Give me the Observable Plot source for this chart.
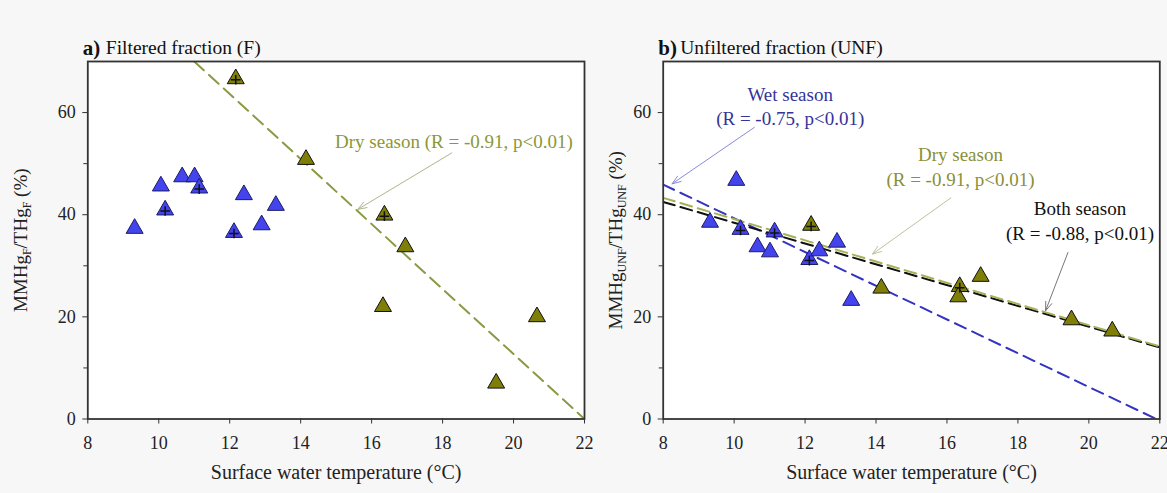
<!DOCTYPE html>
<html><head><meta charset="utf-8">
<script src="https://cdn.jsdelivr.net/npm/d3@7"></script>
<script src="https://cdn.jsdelivr.net/npm/@observablehq/plot@0.6"></script>
<style>
body{margin:0;background:#f7f7f7;width:1167px;height:493px;overflow:hidden;position:relative;font-family:"Liberation Serif",serif;}
#a,#b{position:absolute;top:0}
#a{left:0}
#b{left:595px}
</style></head><body>
<div id="a"></div><div id="b"></div>
<script>
// ---- data ----
const tempWet = [9.32, 10.06, 10.18, 10.66, 11.01, 11.14, 12.12, 12.40, 12.90, 13.30];
const fWet    = [37.8, 46.1, 41.4, 47.9, 47.9, 45.7, 37.0, 44.4, 38.5, 42.3];
const unfWet  = [39.0, 47.2, 37.6, 34.2, 33.2, 37.1, 31.7, 33.4, 35.1, 23.7];
const plusWet = [false, false, true, false, false, true, true, false, false, false];

const tempDry = [12.17, 14.15, 16.36, 16.32, 16.95, 19.51, 20.66];
const fDry    = [67.1, 51.3, 40.4, 22.5, 34.2, 7.5, 20.5];
const unfDry  = [38.4, 26.1, 26.4, 24.4, 28.4, 19.9, 17.7];
const plusDry = [true, false, true, false, false, false, false];

// regression lines (end points)
const fitFDryX = [11, 22],   fitFDryY = [70, 0];
const fitUWetX = [8, 21.9],  fitUWetY = [45.9, 0];
const fitUDryX = [8, 22],    fitUDryY = [43.3, 14.2];
const fitUBothX = [8, 22],   fitUBothY = [42.5, 14.0];

// annotations
const annoA = [{x: 18.32, y: 54.7, text: "Dry season (R = -0.91, p<0.01)", c: "#8a9838"}];
const arrowA = [{x1: 18.26, y1: 52.1, x2: 15.61, y2: 41.05, c: "#a9b98a"}];
const annoB = [
  {x: 11.58, y: 61.45, text: "Wet season\n(R = -0.75, p<0.01)", c: "#34349a"},
  {x: 16.38, y: 49.65, text: "Dry season\n(R = -0.91, p<0.01)", c: "#8a9038"},
  {x: 19.75, y: 39.0, text: "Both season\n(R = -0.88, p<0.01)", c: "#111"}
];
const arrowB = [
  {x1: 10.57, y1: 57.1, x2: 8.25, y2: 46.05, c: "#8a8ad8"},
  {x1: 16.11, y1: 43.3, x2: 13.9, y2: 32.3, c: "#bcc49a"},
  {x1: 19.41, y1: 32.6, x2: 18.78, y2: 21.2, c: "#777"}
];

const xTicks = [8, 10, 12, 14, 16, 18, 20, 22];
const yTicks = [0, 20, 40, 60];
const yMinor = [10, 30, 50];

const xLabel = "Surface water temperature (°C)";
const yLabA = [["MMHg", 0], ["F", 1], ["/THg", 0], ["F", 1], [" (%)", 0]];
const yLabB = [["MMHg", 0], ["UNF", 1], ["/THg", 0], ["UNF", 1], [" (%)", 0]];

const rows = (xs, ys, ps) => xs.map((x, i) => ({x, y: ys[i], p: ps ? ps[i] : false}));

function panel({width, ml, mr, wet, dry, fits, annos, arrows, tag, head, tagDx, titleDx, ylab, ylabDx}) {
  const plain = ylab.map(p => p[0]).join("");
  const marks = [
    Plot.frame({fill: "white", stroke: "none"}),
    ...fits.map(f => Plot.line(f.data, {x: "x", y: "y", stroke: f.c, strokeWidth: 2, strokeDasharray: f.dash, clip: true})),
    ...arrows.map(a => Plot.arrow([a], {x1: "x1", y1: "y1", x2: "x2", y2: "y2", stroke: a.c, strokeWidth: 1, headLength: 14, headAngle: 40})),
    Plot.dot(wet, {x: "x", y: "y", symbol: "triangle", r: 6.3, fill: "#4444ee", stroke: "#1c1c66", strokeWidth: 1, dy: 2.5}),
    Plot.dot(wet.filter(d => d.p), {x: "x", y: "y", symbol: "plus", r: 3.2, stroke: "#111", strokeWidth: 1.5, dy: 3.5}),
    Plot.dot(dry, {x: "x", y: "y", symbol: "triangle", r: 6.3, fill: "#7f7f08", stroke: "#111", strokeWidth: 1, dy: 2.5}),
    Plot.dot(dry.filter(d => d.p), {x: "x", y: "y", symbol: "plus", r: 3.2, stroke: "#111", strokeWidth: 1.5, dy: 3.5}),
    ...annos.map(a => Plot.text([a], {x: "x", y: "y", text: "text", fill: a.c, fontSize: 19, lineHeight: 1.3})),
    Plot.frame({stroke: "#333", strokeWidth: 1.8}),
    Plot.axisX({ticks: xTicks, tickSize: 5, tickPadding: 12, label: null, fontSize: 18, stroke: "#333"}),
    Plot.axisY({ticks: yTicks, tickSize: 5, tickPadding: 7, label: null, fontSize: 18, stroke: "#333"}),
    Plot.axisY({ticks: yMinor, tickSize: 4, tickFormat: () => "", label: null, stroke: "#333"}),
    Plot.text([xLabel], {frameAnchor: "bottom", text: d => d, dy: 60, fontSize: 20, fill: "#222"}),
    Plot.text([tag], {frameAnchor: "top-left", text: d => d, dx: tagDx, dy: -21, fontSize: 21, fontWeight: "bold", textAnchor: "start", fill: "#111"}),
    Plot.text([head], {frameAnchor: "top-left", text: d => d, dx: titleDx, dy: -21, fontSize: 19.5, textAnchor: "start", fill: "#111"}),
    Plot.text([plain], {frameAnchor: "left", text: d => d, rotate: -90, dx: ylabDx, fontSize: 19, textAnchor: "middle", fill: "#222"})
  ];
  const svg = Plot.plot({
    width, height: 493,
    marginLeft: ml, marginRight: mr, marginTop: 61, marginBottom: 74.5,
    x: {domain: [8, 22]},
    y: {domain: [0, 70]},
    style: {fontFamily: "'Liberation Serif', serif", background: "transparent", color: "#222", overflow: "visible"},
    marks
  });
  // subscripts in the y label
  const t = Array.from(svg.querySelectorAll("text")).find(e => e.textContent === plain);
  if (t) {
    const sel = d3.select(t);
    sel.selectAll("*").remove();
    sel.text(null);
    let shifted = false;
    ylab.forEach(([s, sub]) => {
      const ts = sel.append("tspan").text(s);
      if (sub) { ts.attr("font-size", 12); if (!shifted) { ts.attr("dy", 4); shifted = true; } }
      else if (shifted) { ts.attr("dy", -4); shifted = false; }
    });
  }
  return svg;
}

const A = panel({
  width: 595, ml: 87.3, mr: 11,
  wet: rows(tempWet, fWet, plusWet), dry: rows(tempDry, fDry, plusDry),
  fits: [{data: rows(fitFDryX, fitFDryY), c: "#8a9a42", dash: "13,7"}],
  annos: annoA, arrows: arrowA,
  tag: "a)", head: "Filtered fraction (F)",
  tagDx: -5, titleDx: 18,
  ylab: yLabA, ylabDx: -67.3
});
const B = panel({
  width: 572, ml: 67.7, mr: 7.7,
  wet: rows(tempWet, unfWet, plusWet), dry: rows(tempDry, unfDry, plusDry),
  fits: [
    {data: rows(fitUWetX, fitUWetY), c: "#3434c0", dash: "12,7"},
    {data: rows(fitUBothX, fitUBothY), c: "#111", dash: "12,6"},
    {data: rows(fitUDryX, fitUDryY), c: "#a8b058", dash: "12,6"}
  ],
  annos: annoB, arrows: arrowB,
  tag: "b)", head: "Unfiltered fraction (UNF)",
  tagDx: -5, titleDx: 17,
  ylab: yLabB, ylabDx: -47.7
});

document.getElementById("a").appendChild(A);
document.getElementById("b").appendChild(B);
</script>
</body></html>
